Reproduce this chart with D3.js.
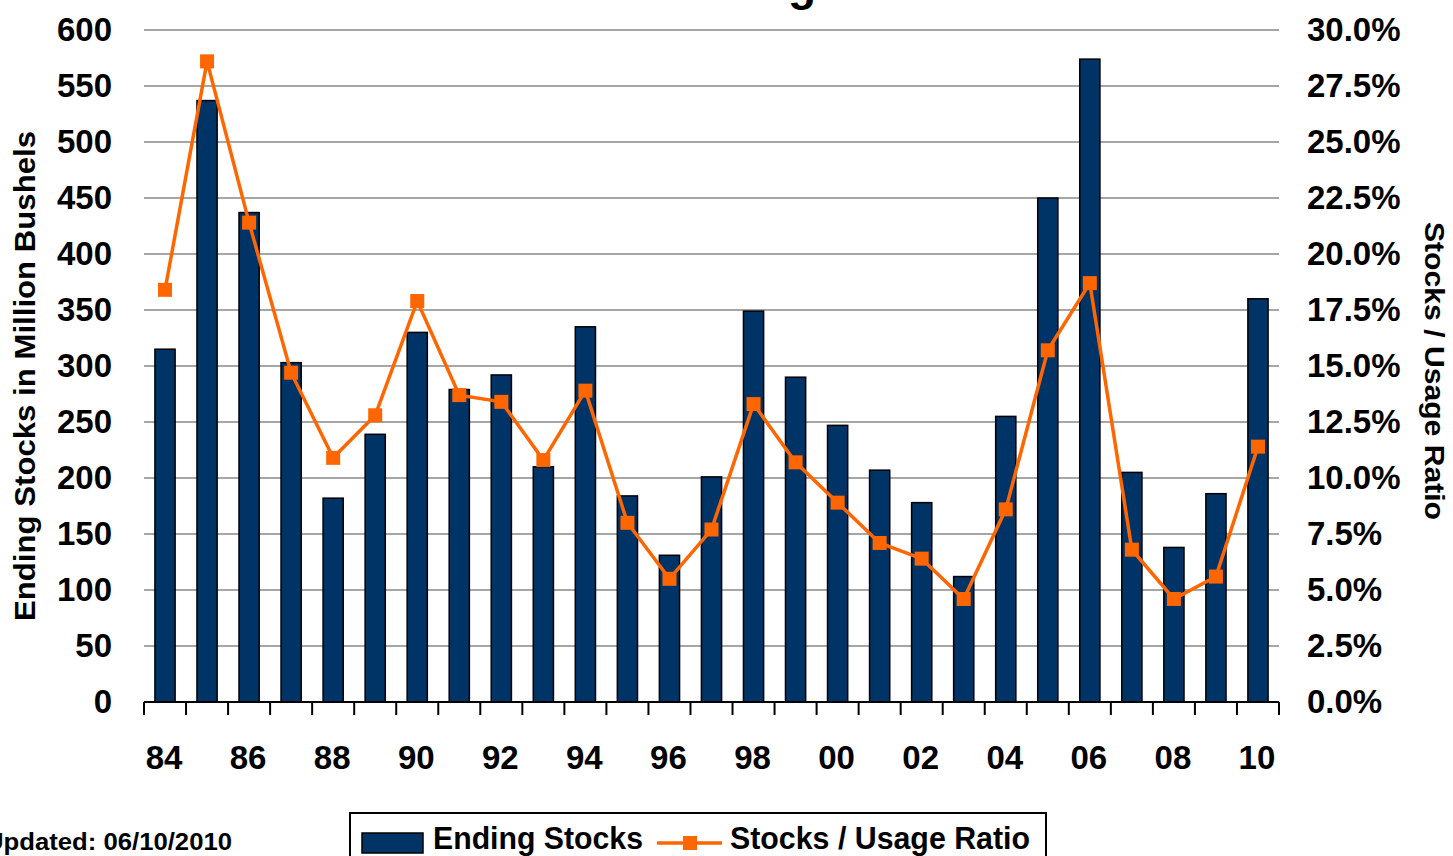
<!DOCTYPE html>
<html>
<head>
<meta charset="utf-8">
<script src="https://cdn.jsdelivr.net/npm/d3@7"></script>
<style>
  body { margin: 0; background: #fff; }
  svg { display: block; font-family: 'Liberation Sans', Arial, sans-serif; font-weight: bold; }
</style>
</head>
<body>
<svg id="chart"></svg>
<script>
// marketing years 1984/85 .. 2010/11
const years = ['84', '85', '86', '87', '88', '89', '90', '91', '92', '93', '94', '95', '96', '97',
  '98', '99', '00', '01', '02', '03', '04', '05', '06', '07', '08', '09', '10'];
const endingStocks = [315, 537, 437, 303, 182, 239, 330, 279, 292, 210, 335, 184, 131, 201,
  349, 290, 247, 207, 178, 112, 255, 450, 574, 205, 138, 186, 360];
const usageRatio = [18.4, 28.6, 21.4, 14.7, 10.9, 12.8, 17.9, 13.7, 13.4, 10.8, 13.9, 8.0, 5.5, 7.7,
  13.3, 10.7, 8.9, 7.1, 6.4, 4.6, 8.6, 15.7, 18.7, 6.8, 4.6, 5.6, 11.4];
const stockTicks = d3.range(0, 601, 50);
const ratioTicks = d3.range(0, 30.1, 2.5);
const xLabels = ['84', '86', '88', '90', '92', '94', '96', '98', '00', '02', '04', '06', '08', '10'];

const W = 1453, H = 856;
const margin = { top: 30, right: 174, bottom: 154, left: 144 };
const width = W - margin.left - margin.right;
const height = H - margin.top - margin.bottom;

const svg = d3.select('#chart')
    .attr('width', W)
    .attr('height', H);

const chart = svg.append('g')
    .attr('transform', `translate(${margin.left},${margin.top})`);

const x = d3.scaleBand()
    .domain(years)
    .range([0, width])
    .paddingInner(0.52)
    .paddingOuter(0.26);

const y = d3.scaleLinear().domain([0, 600]).range([height, 0]);
const y2 = d3.scaleLinear().domain([0, 30]).range([height, 0]);

// gridlines
chart.append('g')
  .selectAll('line')
    .data(stockTicks.filter(d => d > 0))
  .enter().append('line')
    .attr('x1', 0)
    .attr('x2', width)
    .attr('y1', d => y(d))
    .attr('y2', d => y(d))
    .attr('stroke', '#a6a6a6')
    .attr('stroke-width', 2);

// left axis labels
const yAxis = d3.axisLeft(y).tickValues(stockTicks).tickSize(0).tickPadding(32);
chart.append('g')
    .call(yAxis)
    .call(g => g.select('.domain').remove())
    .selectAll('text')
    .attr('font-size', 33)
    .attr('font-family', 'Liberation Sans, Arial, sans-serif')
    .attr('font-weight', 'bold')
    .attr('fill', '#000');

// right axis labels
const y2Axis = d3.axisRight(y2).tickValues(ratioTicks).tickSize(0).tickPadding(28)
    .tickFormat(d => d3.format('.1f')(d) + '%');
chart.append('g')
    .attr('transform', `translate(${width},0)`)
    .call(y2Axis)
    .call(g => g.select('.domain').remove())
    .selectAll('text')
    .attr('font-size', 33)
    .attr('font-family', 'Liberation Sans, Arial, sans-serif')
    .attr('font-weight', 'bold')
    .attr('fill', '#000');

// bars
chart.selectAll('.bar')
    .data(years)
  .enter().append('rect')
    .attr('class', 'bar')
    .attr('x', d => x(d))
    .attr('y', (d, i) => y(endingStocks[i]))
    .attr('width', x.bandwidth())
    .attr('height', (d, i) => height - y(endingStocks[i]))
    .attr('fill', '#003366')
    .attr('stroke', '#000')
    .attr('stroke-width', 1.5);

// x axis: line + ticks at band boundaries
const step = x.step();
const x0 = x(years[0]) - x.paddingOuter() * step;
chart.append('line')
    .attr('x1', 0).attr('x2', width)
    .attr('y1', height).attr('y2', height)
    .attr('stroke', '#000').attr('stroke-width', 2);
chart.append('g')
  .selectAll('line')
    .data(d3.range(years.length + 1))
  .enter().append('line')
    .attr('x1', i => x0 + i * step)
    .attr('x2', i => x0 + i * step)
    .attr('y1', height)
    .attr('y2', height + 13)
    .attr('stroke', '#000')
    .attr('stroke-width', 2);
chart.append('g')
  .selectAll('text')
    .data(xLabels)
  .enter().append('text')
    .attr('x', d => x(d) + x.bandwidth() / 2 - 1)
    .attr('y', height + 67)
    .attr('text-anchor', 'middle')
    .attr('font-size', 33)
    .text(d => d);

// ratio line
const cx = d => x(d) + x.bandwidth() / 2;
const line = d3.line()
    .x((d, i) => cx(years[i]))
    .y(d => y2(d));
chart.append('path')
    .datum(usageRatio)
    .attr('d', line)
    .attr('fill', 'none')
    .attr('stroke', '#ff6600')
    .attr('stroke-width', 3.5);
chart.selectAll('.pt')
    .data(usageRatio)
  .enter().append('rect')
    .attr('class', 'pt')
    .attr('x', (d, i) => cx(years[i]) - 7)
    .attr('y', d => y2(d) - 7)
    .attr('width', 14)
    .attr('height', 14)
    .attr('fill', '#ff6600');

// axis titles
svg.append('text')
    .attr('transform', `translate(35,${376}) rotate(-90)`)
    .attr('text-anchor', 'middle')
    .attr('font-size', 29)
    .attr('textLength', 490)
    .attr('lengthAdjust', 'spacingAndGlyphs')
    .text('Ending Stocks in Million Bushels');
svg.append('text')
    .attr('transform', `translate(1425,${371}) rotate(90)`)
    .attr('text-anchor', 'middle')
    .attr('font-size', 28)
    .attr('textLength', 298)
    .attr('lengthAdjust', 'spacingAndGlyphs')
    .text('Stocks / Usage Ratio');

// title (mostly cropped off at top of the picture)
const title = svg.append('text')
    .attr('y', 0)
    .attr('font-size', 46)
    .text('Stocks & Usage');
const tStr = title.text();
const gIdx = tStr.lastIndexOf('g');
title.attr('x', 788 - title.node().getSubStringLength(0, gIdx));

// legend
const legend = svg.append('g');
legend.append('rect')
    .attr('x', 350).attr('y', 813)
    .attr('width', 696).attr('height', 60)
    .attr('fill', '#fff')
    .attr('stroke', '#000')
    .attr('stroke-width', 2);
legend.append('rect')
    .attr('x', 362).attr('y', 833)
    .attr('width', 61).attr('height', 20)
    .attr('fill', '#003366')
    .attr('stroke', '#000')
    .attr('stroke-width', 1.5);
legend.append('text')
    .attr('x', 433).attr('y', 849)
    .attr('font-size', 31)
    .attr('textLength', 210)
    .attr('lengthAdjust', 'spacingAndGlyphs')
    .text('Ending Stocks');
legend.append('line')
    .attr('x1', 657).attr('x2', 722)
    .attr('y1', 843).attr('y2', 843)
    .attr('stroke', '#ff6600')
    .attr('stroke-width', 3.5);
legend.append('rect')
    .attr('x', 683).attr('y', 836)
    .attr('width', 14).attr('height', 14)
    .attr('fill', '#ff6600');
legend.append('text')
    .attr('x', 730).attr('y', 849)
    .attr('font-size', 31)
    .attr('textLength', 300)
    .attr('lengthAdjust', 'spacingAndGlyphs')
    .text('Stocks / Usage Ratio');

svg.append('text')
    .attr('x', -15).attr('y', 850)
    .attr('font-size', 23)
    .attr('textLength', 247)
    .attr('lengthAdjust', 'spacingAndGlyphs')
    .text('Updated: 06/10/2010');
</script>
</body>
</html>
